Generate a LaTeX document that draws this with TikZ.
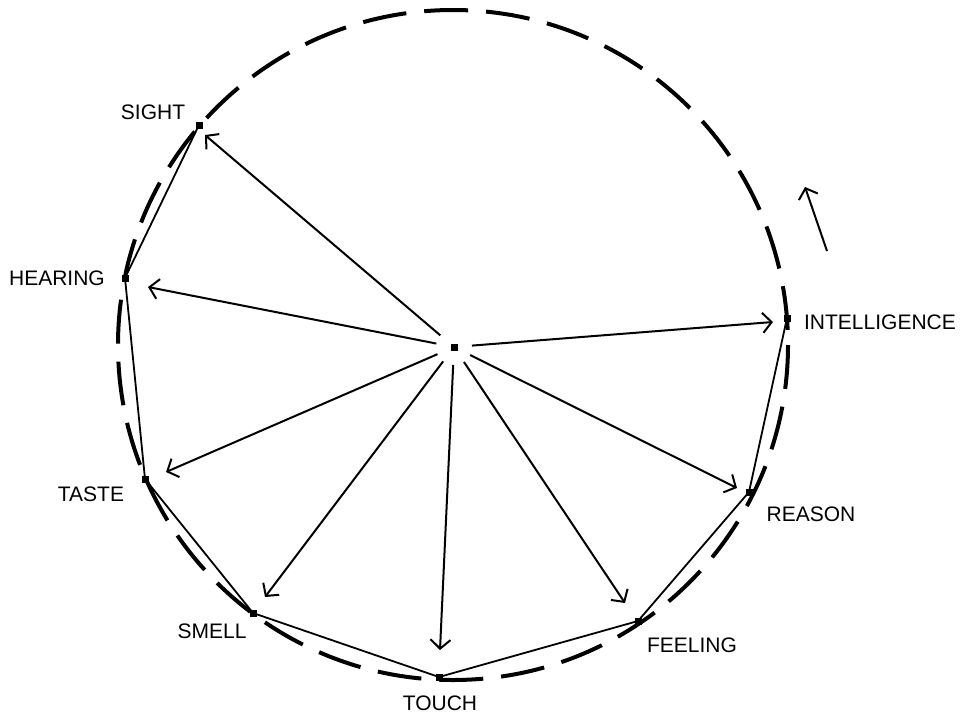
\documentclass[tikz,border=0pt]{standalone}
\usepackage{fontspec}
\setmainfont{Liberation Sans}
\usetikzlibrary{arrows.meta}
\begin{document}
\begin{tikzpicture}[x=1pt,y=-1pt,
  vtx/.style={rectangle,fill=black,minimum size=7pt,inner sep=0pt},
  lbl/.style={font=\fontsize{21}{25}\selectfont,inner sep=0pt},
  barb/.style={-{Straight Barb[length=9pt,width=20pt,line width=2pt]}},
  ray/.style={line width=2pt,barb,shorten <=18pt},
  poly/.style={line width=1.8pt},
  rim/.style={line width=4pt,dash pattern=on 44pt off 18pt}]
\useasboundingbox (0,0) rectangle (965,715);
% dashed circle
\draw[rim] (453,345) circle[radius=335];
% centre
\node[vtx] (c) at (454,347) {};
% vertices
\node[vtx] (sight) at (199,125) {};
\node[vtx] (hearing) at (125,278) {};
\node[vtx] (taste) at (145,479) {};
\node[vtx] (smell) at (253,613) {};
\node[vtx] (touch) at (439,677) {};
\node[vtx] (feeling) at (638,621) {};
\node[vtx] (reason) at (749,492) {};
\node[vtx] (intel) at (787,318) {};
% arrow tips
\coordinate (tsight) at (205,135);
\coordinate (thearing) at (148,287);
\coordinate (ttaste) at (166,472);
\coordinate (tsmell) at (265,597);
\coordinate (ttouch) at (440,650);
\coordinate (tfeeling) at (625,603);
\coordinate (treason) at (737,488);
\coordinate (tintel) at (773,322);
% polygon
\draw[poly] (sight.center) -- (hearing.center) -- (taste.center) -- (smell.center)
  -- (touch.center) -- (feeling.center) -- (reason.center) -- (intel.center);
% rays
\foreach \t in {tsight,thearing,ttaste,tsmell,ttouch,tfeeling,treason,tintel}
  \draw[ray] (c.center) -- (\t);
% rotation arrow
\coordinate (rotA) at (827,251);
\coordinate (rotB) at (805,187);
\draw[line width=2pt,barb] (rotA) -- (rotB);
% labels
\node[lbl] (lsight) at (153,112) {SIGHT};
\node[lbl] (lhearing) at (57,278) {HEARING};
\node[lbl] (ltaste) at (91,494) {TASTE};
\node[lbl] (lsmell) at (212,631) {SMELL};
\node[lbl] (ltouch) at (440,703) {TOUCH};
\node[lbl] (lfeeling) at (692,645) {FEELING};
\node[lbl] (lreason) at (811,514) {REASON};
\node[lbl] (lintel) at (880,322) {INTELLIGENCE};
\end{tikzpicture}
\end{document}
